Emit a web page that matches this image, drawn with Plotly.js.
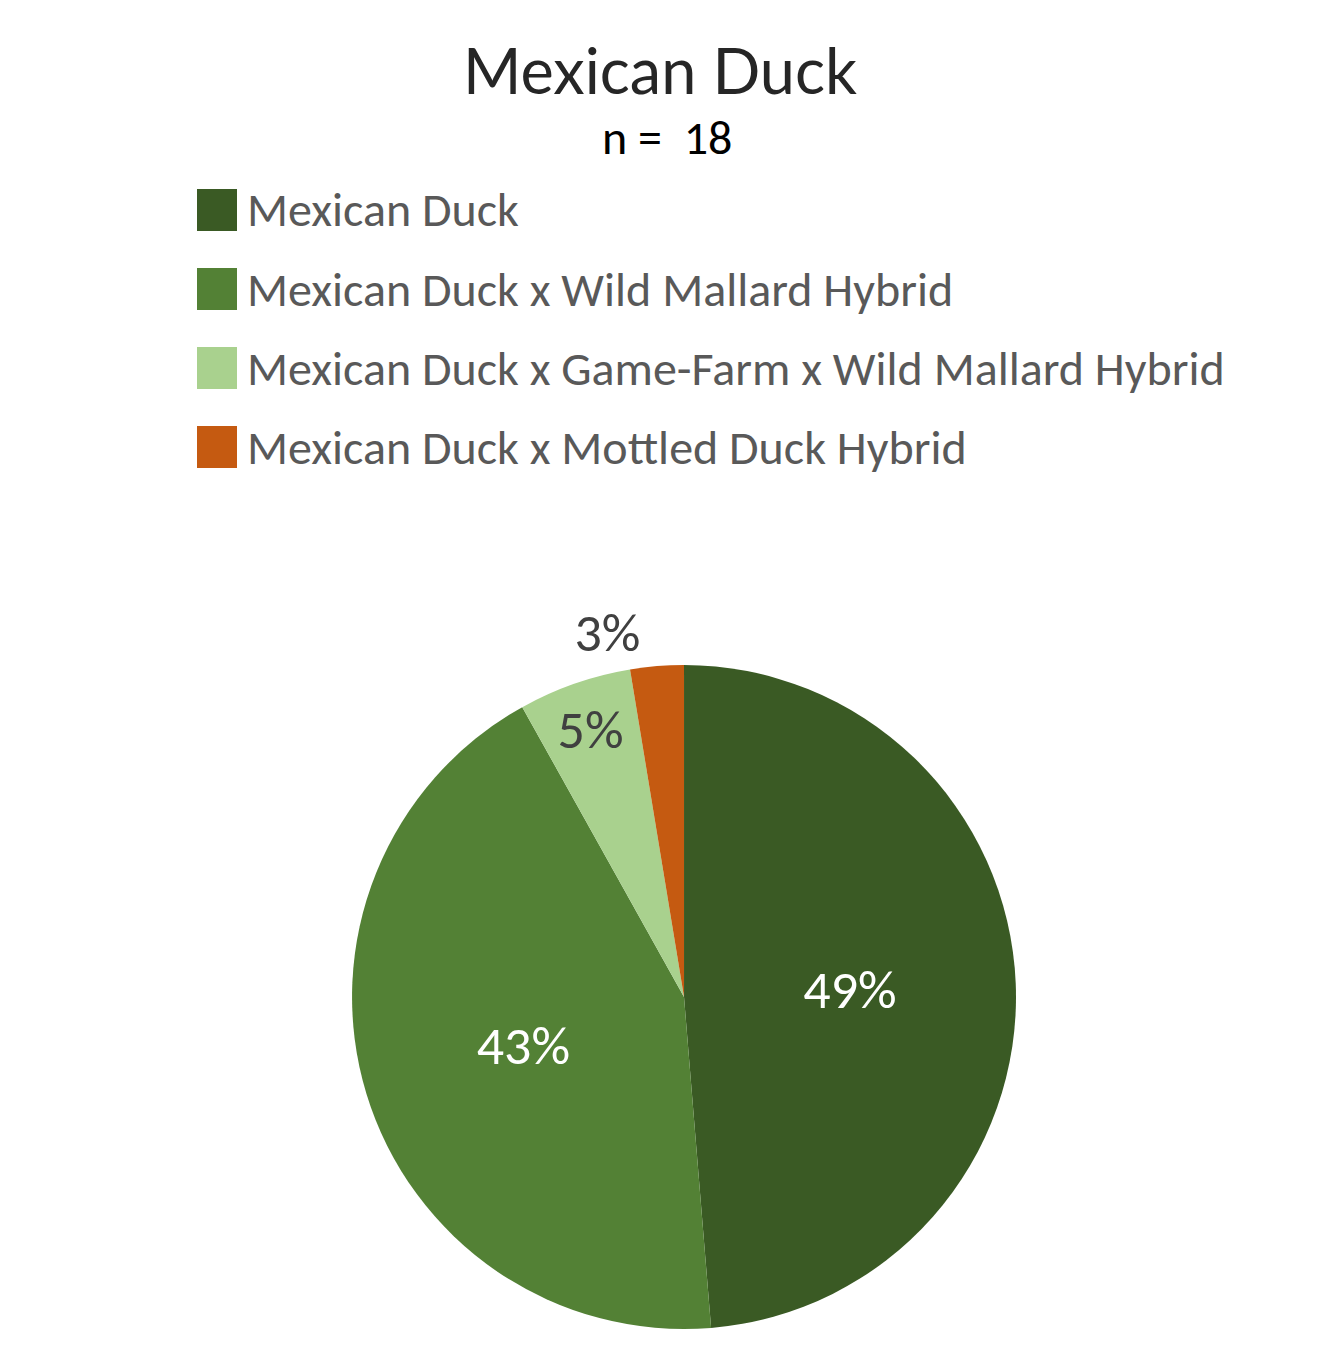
<!DOCTYPE html>
<html>
<head>
<meta charset="utf-8">
<script src="https://cdn.plot.ly/plotly-3.0.1.min.js"></script>
<style>
  html, body { margin: 0; padding: 0; background: #fff; }
  #chart { width: 1320px; height: 1362px; }
</style>
</head>
<body>
<div id="chart"></div>
<script>
const categories = [
  'Mexican Duck',
  'Mexican Duck x Wild Mallard Hybrid',
  'Mexican Duck x Game-Farm x Wild Mallard Hybrid',
  'Mexican Duck x Mottled Duck Hybrid'
];
const shares = [48.7, 43.2, 5.5, 2.6];
const shareLabels = ['49%', '43%', '5%', '3%'];
const sliceColors = ['#3A5A24', '#538135', '#A9D18E', '#C55A11'];
const textColors = ['#ffffff', '#ffffff', '#404040', '#404040'];

const labelFont = 'Calibri, Carlito, Lato, sans-serif';
const W = 1320, H = 1362;

// legend drawn by hand: Excel-style big squares with wide row spacing
const legendTop = 210;   // px, centre of first row
const legendStep = 79;   // px between rows
const shapes = [];
const annotations = [{
  text: 'n =  18',
  xref: 'paper', yref: 'paper',
  x: 667 / W, y: 1 - 137 / H, xanchor: 'center', yanchor: 'middle',
  showarrow: false,
  font: { family: labelFont, size: 48, color: '#000000' }
}];

categories.forEach((name, i) => {
  const yc = legendTop + i * legendStep;
  shapes.push({
    type: 'rect', xref: 'paper', yref: 'paper',
    x0: 197 / W, x1: 237 / W,
    y0: 1 - (yc + 21) / H, y1: 1 - (yc - 21) / H,
    fillcolor: sliceColors[i], line: { width: 0 }
  });
  annotations.push({
    text: name,
    xref: 'paper', yref: 'paper',
    x: 245 / W, y: 1 - yc / H, xanchor: 'left', yanchor: 'middle',
    showarrow: false,
    font: { family: labelFont, size: 48, color: '#595959' }
  });
});

const trace = {
  type: 'pie',
  labels: categories,
  values: shares,
  text: shareLabels,
  textinfo: 'text',
  textposition: ['inside', 'inside', 'inside', 'outside'],
  insidetextorientation: 'horizontal',
  insidetextfont: { family: labelFont, size: 54, color: textColors },
  outsidetextfont: { family: labelFont, size: 54, color: '#404040' },
  marker: { colors: sliceColors, line: { color: '#ffffff', width: 0 } },
  sort: false,
  direction: 'clockwise',
  rotation: 0,
  hoverinfo: 'label+text',
  domain: { x: [0.2667, 0.7697], y: [0.0242, 0.5117] }
};

const layout = {
  width: W,
  height: H,
  margin: { l: 0, r: 0, t: 0, b: 0 },
  paper_bgcolor: '#ffffff',
  title: {
    text: 'Mexican Duck',
    font: { family: 'Lato, sans-serif', size: 63, color: '#262626' },
    x: 0.5, xanchor: 'center',
    y: 1 - 72 / H, yanchor: 'middle'
  },
  showlegend: false,
  shapes: shapes,
  annotations: annotations
};

Plotly.newPlot('chart', [trace], layout, { displayModeBar: false, staticPlot: true });
</script>
</body>
</html>
